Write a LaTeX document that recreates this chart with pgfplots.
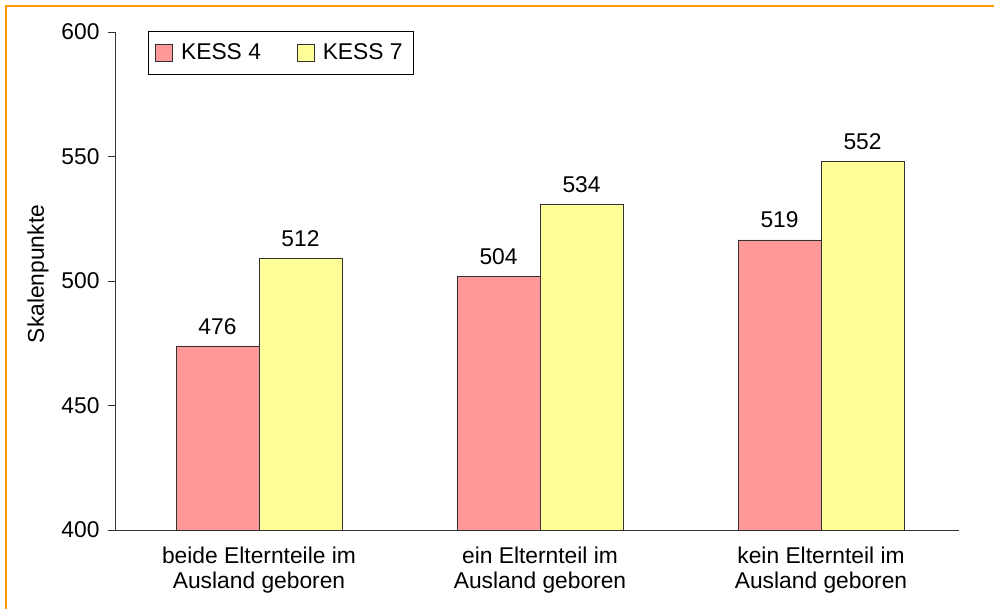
\documentclass[border=0pt]{standalone}
\usepackage{pgfplots}
\pgfplotsset{compat=1.18}
\usepackage{pgfplotstable}
\usepackage{fontspec}
\setmainfont{Liberation Sans}
\definecolor{kpink}{RGB}{255,153,153}
\definecolor{kyellow}{RGB}{255,255,153}
\definecolor{frameorange}{RGB}{255,155,0}
\definecolor{edgegray}{RGB}{50,50,50}
\pgfplotstableread{
x k4 l4 k7 l7
0 473.9 476 509.1 512
1 501.7 504 530.8 534
2 516.5 519 547.9 552
}\datatable
\newcommand{\chartfont}{\fontsize{22.8}{25.5}\selectfont}
\begin{document}
\begin{tikzpicture}[font=\chartfont]
\useasboundingbox (0,0) rectangle (994pt,609pt);
\draw[frameorange, line width=2.8pt] (6pt,-2pt) -- (6pt,603pt) -- (996pt,603pt);
\begin{axis}[
  at={(115pt,79pt)}, anchor=south west,
  scale only axis, width=844pt, height=498pt,
  font=\chartfont,
  ymin=400, ymax=600, ytick={400,450,...,600},
  xmin=-0.5125, xmax=2.491,
  xtick={0,1,2},
  xticklabels={{beide Elternteile im\\Ausland geboren},{ein Elternteil im\\Ausland geboren},{kein Elternteil im\\Ausland geboren}},
  xticklabel style={align=center, yshift=-6pt, font=\chartfont},
  yticklabel style={font=\chartfont, xshift=-5pt},
  axis x line=bottom, axis y line=left,
  axis line style={-, line width=0.8pt, edgegray},
  xtick style={draw=none},
  ytick style={line width=0.8pt, edgegray},
  tick align=outside, major tick length=7pt,
  /pgf/number format/assume math mode=true,
  ylabel={Skalenpunkte},
  ylabel style={at={(axis description cs:-0.0912,0.514)}, anchor=center, font=\chartfont},
  ybar=0pt, bar width=83pt,
  nodes near coords, point meta=explicit symbolic,
  every node near coord/.append style={yshift=8pt, font=\chartfont},
  legend columns=2,
  legend style={at={(0.039,1.002)}, anchor=north west, draw=black, line width=0.8pt, font=\chartfont,
    inner xsep=7pt, inner ysep=6pt,
    nodes={inner sep=4pt, text height=18pt, text depth=5pt},
    /tikz/every odd column/.append style={column sep=4pt},
    /tikz/every even column/.append style={column sep=32pt}},
  legend image code/.code={\draw[#1, line width=0.8pt] (0pt,-8.5pt) rectangle (17pt,8.5pt);},
]
\addplot[fill=kpink, draw=edgegray, line width=0.8pt] table[x=x, y=k4, meta=l4] {\datatable};
\addlegendentry{KESS 4}
\addplot[fill=kyellow, draw=edgegray, line width=0.8pt] table[x=x, y=k7, meta=l7] {\datatable};
\addlegendentry{KESS 7}
\end{axis}
\end{tikzpicture}
\end{document}
